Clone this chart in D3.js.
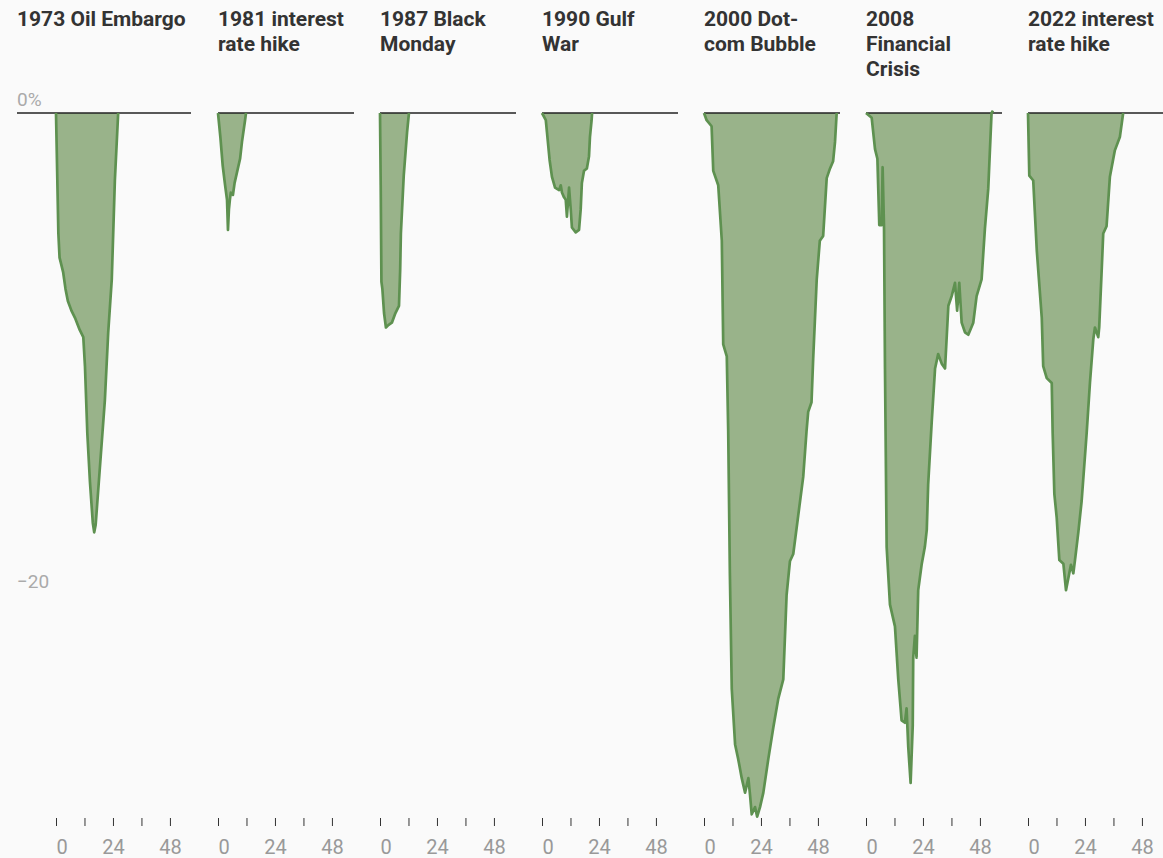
<!DOCTYPE html>
<html>
<head>
<meta charset="utf-8">
<script src="https://cdn.jsdelivr.net/npm/d3@7"></script>
<style>
    body { margin: 0; background: #fafafa; font-family: Roboto, "Noto Sans", sans-serif; }
</style>
</head>
<body>
<div id="chart"></div>
<script>
// drawdown in % by month after the start of each crisis
const titles = [
    ["1973 Oil Embargo"],
    ["1981 interest", "rate hike"],
    ["1987 Black", "Monday"],
    ["1990 Gulf", "War"],
    ["2000 Dot-", "com Bubble"],
    ["2008", "Financial", "Crisis"],
    ["2022 interest", "rate hike"]
];

const oil1973 = [[0,0],[0.5,-2.5],[1,-5],[1.5,-6.0],[2,-6.2],[3,-6.6],[4,-7.3],[5,-7.8],[6.5,-8.2],[8,-8.5],[10,-9.0],[11.5,-9.3],[12.2,-10.5],[13.2,-13.3],[14.3,-15.3],[15.5,-17.0],[16.1,-17.4],[16.7,-17.1],[18.5,-14.7],[20.6,-11.9],[22,-9.1],[23.5,-6.9],[24.8,-2.8],[26.2,0]];

const rates1981 = [[0,0],[1,-1],[2,-2.2],[3,-3],[3.8,-3.6],[4.2,-4.85],[4.6,-4],[5,-3.6],[5.4,-3.3],[6.3,-3.4],[7,-2.9],[9.3,-1.9],[10.1,-1.2],[11.4,-0.3],[11.8,0]];

const monday1987 = [[0,0],[0.3,-3],[0.6,-7],[1,-7.3],[1.7,-8.3],[2.5,-8.9],[3.5,-8.8],[5,-8.7],[6.5,-8.3],[8,-8.0],[8.5,-6.5],[8.8,-5],[10,-2.6],[11.4,-0.8],[12.2,0]];

const gulf1990 = [[0,0],[1.6,-0.3],[2.1,-0.8],[3.2,-1.95],[4.2,-2.65],[5.5,-3.1],[7.2,-3.2],[7.9,-3.0],[8.4,-3.3],[9.3,-3.5],[10,-3.6],[10.5,-4.3],[11.4,-3.1],[12.1,-4.0],[12.6,-4.75],[14.2,-4.95],[15.6,-4.85],[16.3,-4.0],[16.8,-2.9],[17.7,-2.4],[18.9,-2.3],[19.8,-1.8],[20.2,-1.0],[20.9,-0.3],[21.1,0]];

const dotcom2000 = [[0,0],[1.1,-0.3],[3.2,-0.55],[3.9,-2.4],[6,-3.0],[7.5,-5.3],[8.1,-9.6],[9.6,-10.1],[10.2,-13.2],[10.9,-19.1],[11.7,-23.9],[13.1,-26.2],[14.4,-26.8],[15.9,-27.6],[17.3,-28.2],[18.7,-27.6],[19.4,-28.3],[20.1,-29.1],[21.5,-28.8],[22.4,-29.2],[23.6,-28.8],[25,-28.2],[27.1,-26.8],[29.2,-25.5],[31.3,-24.3],[33.4,-23.5],[34.8,-20.0],[36.2,-18.6],[37.6,-18.3],[39.7,-16.7],[41.8,-15.1],[43.2,-13.2],[43.9,-12.4],[45.3,-12.0],[46,-10.2],[47.5,-6.9],[48.8,-5.3],[50.2,-5.1],[51.7,-2.7],[53.1,-2.3],[54.4,-2.0],[55.2,-1.2],[55.9,0]];

const crisis2008 = [[0,0],[2.4,-0.2],[3.8,-1.5],[4.8,-1.9],[5.6,-4.65],[6.6,-4.65],[7,-2.25],[7.6,-4.8],[8,-10.6],[8.7,-18.0],[10.1,-20.4],[12.2,-21.3],[13.6,-23.5],[15,-25.2],[16.4,-25.3],[17.1,-24.7],[17.8,-26.3],[18.8,-27.8],[19.7,-25.4],[19.9,-22.6],[20.6,-21.7],[21.3,-22.6],[22,-19.8],[23.5,-18.7],[24.8,-18.0],[25.6,-17.3],[26.2,-15.4],[27.7,-12.8],[29.1,-10.6],[30.4,-10.0],[31.9,-10.4],[33.3,-10.6],[34.7,-8.0],[36.1,-7.6],[37.5,-7.05],[38.4,-8.2],[39.3,-7.05],[40.3,-8.7],[41.7,-9.1],[43.1,-9.2],[45.2,-8.7],[46.6,-7.6],[48.7,-6.9],[50.1,-4.8],[51.5,-3.15],[52.9,0],[53.5,0.1]];

const rates2022 = [[0,0],[0.55,-2.6],[2.2,-2.8],[3.7,-5.7],[5.8,-8.5],[6.4,-10.5],[7.9,-11.0],[10,-11.2],[10.4,-13.3],[11.1,-15.8],[12.1,-16.8],[13.2,-18.55],[14.9,-18.7],[16,-19.8],[17.4,-19.1],[18.1,-18.75],[19.1,-19.1],[19.8,-18.55],[21.2,-17.4],[22.6,-16.1],[24.7,-13.3],[26.1,-11.2],[27.5,-9.4],[28.2,-8.9],[29.6,-9.3],[30,-8.9],[31.1,-6.4],[31.7,-5.0],[33.1,-4.7],[34.5,-2.65],[36.6,-1.55],[38.7,-1.0],[40.1,0]];

const series = [oil1973, rates1981, monday1987, gulf1990, dotcom2000, crisis2008, rates2022];

const xTicks = [0, 12, 24, 36, 48];
const xTickLabels = ["0", "", "24", "", "48"];
const yTicks = [0, -20];
const yTickLabels = ["0%", "\u221220"];

const width = 1163, height = 858;
const panelStep = 162, firstX = 56, panelW = 136, labelLeft = 17;

const svg = d3.select("#chart")
    .append("svg")
    .attr("width", width)
    .attr("height", height);

const y = d3.scaleLinear()
    .domain([0, -20])
    .range([113, 595]);

const x = d3.scaleLinear()
    .domain([0, 57.3])
    .range([0, panelW]);

// y labels only on the first panel
svg.selectAll(".ylabel")
    .data(yTicks)
    .enter().append("text")
    .attr("x", labelLeft)
    .attr("y", d => y(d) - 7)
    .attr("fill", "#aaa")
    .attr("font-size", 19)
    .text((d, i) => yTickLabels[i]);

series.forEach((data, i) => {
    const g = svg.append("g")
        .attr("transform", `translate(${firstX + i * panelStep},0)`);

    const left = i === 0 ? labelLeft - firstX : 0;

    g.append("text")
        .attr("x", left)
        .attr("fill", "#333")
        .attr("font-size", 21)
        .attr("font-weight", "bold")
        .selectAll("tspan")
        .data(titles[i])
        .enter().append("tspan")
        .attr("x", left)
        .attr("y", (d, j) => 26 + j * 25)
        .text(d => d);

    g.append("path")
        .datum(data)
        .attr("fill", "#99b38a")
        .attr("d", d3.area()
            .x(d => x(d[0]))
            .y0(y(0))
            .y1(d => y(d[1])));

    g.append("line")
        .attr("x1", left)
        .attr("x2", i === 0 ? panelW - 1 : panelW)
        .attr("y1", y(0))
        .attr("y2", y(0))
        .attr("stroke", "#222")
        .attr("stroke-width", 1.3);

    g.append("path")
        .datum(data)
        .attr("fill", "none")
        .attr("stroke", "#5e9150")
        .attr("stroke-width", 2.7)
        .attr("stroke-linejoin", "round")
        .attr("d", d3.line()
            .x(d => x(d[0]))
            .y(d => y(d[1])));

    const axis = g.append("g")
        .attr("transform", "translate(0,818)")
        .call(d3.axisBottom(x)
            .tickValues(xTicks)
            .tickSize(8)
            .tickFormat((d, j) => xTickLabels[j]));
    axis.select(".domain").remove();
    axis.selectAll(".tick line").attr("stroke", "#333");
    axis.selectAll(".tick text")
        .attr("font-family", "Roboto, sans-serif")
        .attr("font-size", 20)
        .attr("fill", "#999")
        .attr("y", 22)
        .attr("dy", "0.71em")
        .attr("text-anchor", d => d === 0 ? "start" : "middle");
});
</script>
</body>
</html>
